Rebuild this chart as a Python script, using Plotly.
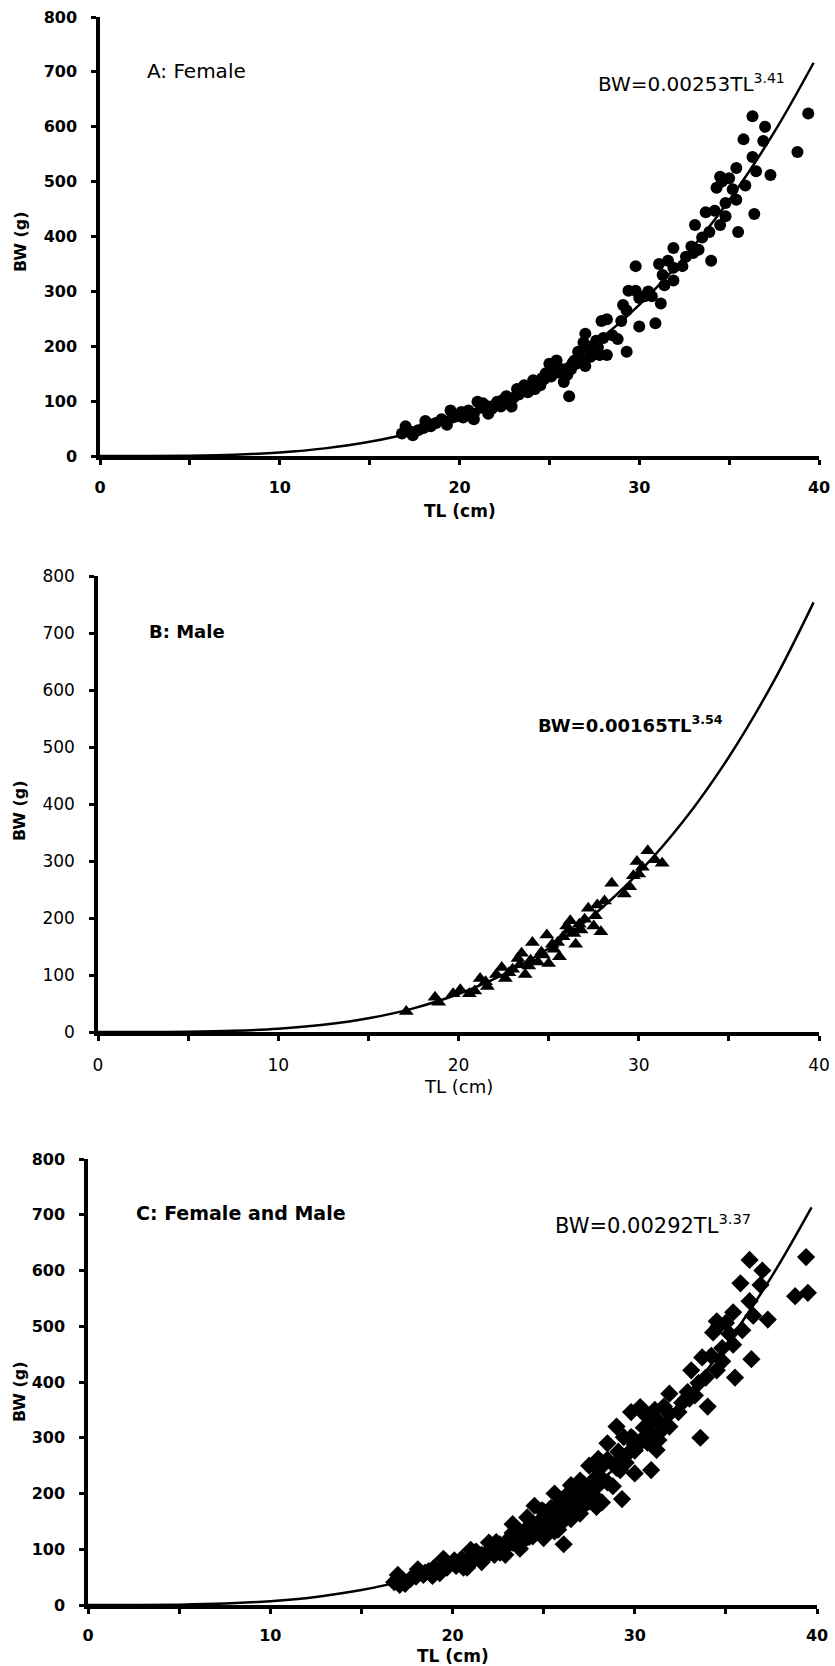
import plotly.graph_objects as go

# ---------------- data ----------------
female_tl = [39.4, 38.8, 37.3, 36.3, 37.0, 36.9, 35.8, 36.3, 36.5, 36.4, 35.5, 35.4, 35.4, 35.9,
             34.5, 34.3, 34.8, 34.8, 34.5, 33.7, 34.0, 33.1, 33.5, 33.3, 31.9, 31.9, 31.6, 31.3,
             31.9, 32.6, 31.1, 31.2, 30.9, 30.7, 29.8, 29.4, 29.8, 30.0, 30.0, 29.3, 29.1, 29.3,
             28.8, 28.2, 27.9, 28.2, 27.8, 27.6, 27.0, 26.9, 27.3, 27.0, 26.6, 26.4, 26.2, 26.1,
             25.8, 25.6, 25.4, 25.3, 25.0, 24.8, 24.6, 24.4, 24.1, 24.1, 23.6, 23.2, 23.0, 22.9,
             22.6, 22.1, 21.8, 21.6, 21.3, 21.0, 20.8, 20.5, 20.2, 20.1, 19.6, 19.5, 19.3, 19.0,
             18.7, 18.4, 18.1, 18.0, 17.7, 17.3, 17.0, 16.8, 17.4, 20.8, 21.6, 22.3, 22.7, 23.3,
             23.8, 24.2, 24.5, 25.1, 25.7, 26.0, 26.5, 26.8, 27.2, 27.5, 28.5, 29.0, 30.3, 31.4,
             32.4, 32.9, 33.9, 34.2, 35.0, 35.2, 18.5, 19.8, 20.4, 21.2, 22.0, 22.4, 23.5, 24.0,
             24.7, 25.5, 26.3, 26.7, 27.1, 27.7, 28.0, 30.5, 33.0, 34.6]
female_bw = [624, 554, 512, 619, 600, 574, 577, 545, 519, 441, 408, 467, 525, 493,
             509, 489, 461, 437, 421, 444, 356, 421, 398, 376, 379, 343, 356, 330,
             320, 363, 350, 278, 242, 291, 346, 301, 301, 288, 236, 265, 275, 190,
             213, 249, 246, 184, 184, 210, 223, 207, 181, 164, 190, 174, 158, 109,
             135, 155, 174, 161, 168, 151, 142, 132, 138, 122, 129, 122, 106, 90,
             109, 99, 86, 90, 96, 99, 77, 83, 70, 80, 70, 83, 57, 67,
             60, 54, 64, 51, 47, 44, 54, 41, 38, 67, 77, 90, 96, 112,
             116, 122, 129, 145, 158, 148, 168, 177, 194, 190, 220, 246, 291, 311,
             346, 382, 408, 447, 506, 486, 58, 72, 74, 88, 94, 102, 118, 128,
             140, 152, 170, 180, 200, 198, 215, 300, 370, 500]

male_tl = [17.1, 18.7, 18.9, 19.7, 20.1, 20.6, 21.2, 21.6, 22.1, 22.4, 22.6, 23.0, 23.3, 23.5,
           23.7, 23.9, 24.1, 24.4, 24.7, 24.9, 25.0, 25.3, 25.6, 25.8, 26.0, 26.2, 26.4, 26.5,
           26.8, 27.0, 27.2, 27.5, 27.6, 27.9, 28.1, 28.5, 29.2, 29.5, 29.7, 29.9, 30.0, 30.5,
           30.9, 31.3, 30.2, 25.2, 21.5, 22.8, 24.0, 25.5, 26.7, 27.7, 20.9, 23.4, 24.6, 26.1]
male_bw = [36, 61, 52, 67, 74, 67, 94, 80, 101, 113, 94, 110, 129, 138,
           101, 116, 157, 123, 135, 170, 120, 145, 132, 167, 186, 195, 173, 154,
           179, 198, 217, 186, 204, 176, 230, 261, 242, 255, 274, 299, 277, 318,
           302, 296, 289, 154, 88, 104, 126, 157, 189, 223, 72, 118, 140, 178]

extra_tl = [33.6, 39.5, 30.3, 31.0, 28.5, 29.0, 26.5, 27.5, 24.5, 23.3, 25.6, 28.0, 30.6, 22.0]
extra_bw = [300, 560, 355, 330, 290, 320, 215, 250, 178, 145, 200, 262, 340, 112]

combined_tl = female_tl + male_tl + extra_tl
combined_bw = female_bw + male_bw + extra_bw

curve_tl = [0, 2.5, 5, 7.5, 10, 12.5, 15, 17.5, 20, 22.5, 25, 27.5, 30, 32.5, 35, 37.5, 39.7]
curve_female = [0, 0.06, 0.61, 2.44, 6.5, 13.9, 25.9, 43.8, 69.1, 103.3, 147.9, 204.7, 275.5,
                361.9, 466.1, 589.6, 716.6]
curve_male = [0, 0.04, 0.49, 2.07, 5.7, 12.6, 24.0, 41.5, 66.6, 101.0, 146.6, 205.4, 279.5,
              370.9, 482.5, 615.9, 753.7]
curve_all = [0, 0.06, 0.66, 2.60, 6.85, 14.5, 26.8, 45.1, 70.7, 105.2, 150.2, 207.0, 277.5,
             363.5, 466.3, 588.6, 713.3]

panel_labels = ["A: Female", "B: Male", "C: Female and Male"]
equations = ["BW=0.00253TL<sup>3.41</sup>", "BW=0.00165TL<sup>3.54</sup>",
             "BW=0.00292TL<sup>3.37</sup>"]
x_title = "TL (cm)"
y_title = "BW (g)"

# ---------------- figure ----------------
W, H = 835, 1666
FONT = "DejaVu Sans"


def px_x(p):
    return p / W


def px_y(p):
    return 1 - p / H


# panel pixel boxes (left, right, top, bottom)
boxes = [(100, 819, 17, 456), (98, 819, 576, 1032), (88, 817, 1159, 1605)]
bold_ticks = [True, False, True]

fig = go.Figure()

series = [
    (female_tl, female_bw, curve_female, "circle", 12),
    (male_tl, male_bw, curve_male, "triangle-up", 13),
    (combined_tl, combined_bw, curve_all, "diamond", 14),
]

for i, (tl, bw, cv, sym, ms) in enumerate(series):
    sfx = "" if i == 0 else str(i + 1)
    fig.add_trace(go.Scatter(x=curve_tl, y=cv, mode="lines",
                             line=dict(color="black", width=2.5, shape="spline"),
                             xaxis="x" + sfx, yaxis="y" + sfx, showlegend=False, hoverinfo="skip"))
    fig.add_trace(go.Scatter(x=tl, y=bw, mode="markers",
                             marker=dict(symbol=sym, size=ms, color="black", line=dict(width=0)),
                             xaxis="x" + sfx, yaxis="y" + sfx, showlegend=False, cliponaxis=False))

layout = dict(width=W, height=H, margin=dict(l=0, r=0, t=0, b=0, autoexpand=False),
              paper_bgcolor="white", plot_bgcolor="white", showlegend=False,
              font=dict(family=FONT, color="black"))

annotations = []
x_title_y = [511, 1086, 1656]
y_title_y = [242, 811, 1392]
y_title_x = [20, 20, 19]
x_standoff = [9, 10, 8]
label_pos = [(2.5, 701), (2.7, 702), (2.5, 703)]
label_font = [dict(size=20, family=FONT), dict(size=18, family=FONT, weight="bold"),
              dict(size=19, family=FONT, weight="bold")]
eq_pos = [(27.6, 680), (24.3, 540), (25.5, 684)]
eq_font = [dict(size=20, family=FONT), dict(size=18, family=FONT, weight="bold"),
           dict(size=21, family=FONT)]

for i, (l, r, t, b) in enumerate(boxes):
    sfx = "" if i == 0 else str(i + 1)
    if bold_ticks[i]:
        tick_font = dict(family=FONT, size=16, weight="bold")
        xt_font = dict(family=FONT, size=17, weight="bold")
    else:
        tick_font = dict(family=FONT, size=17)
        xt_font = dict(family=FONT, size=18)
    layout["xaxis" + sfx] = dict(
        domain=[px_x(l), px_x(r)], anchor="y" + sfx, range=[0, 40], dtick=10, tick0=0,
        showline=True, linecolor="black", linewidth=3.5, showgrid=False, zeroline=False,
        ticks="outside", ticklen=5, tickwidth=3, tickcolor="black", tickfont=tick_font,
        ticklabelstandoff=x_standoff[i], automargin=False,
        minor=dict(ticks="outside", dtick=5, tick0=0, ticklen=5, tickwidth=3,
                   tickcolor="black", showgrid=False),
    )
    layout["yaxis" + sfx] = dict(
        domain=[px_y(b), px_y(t)], anchor="x" + sfx, range=[0, 800], dtick=100, tick0=0,
        showline=True, linecolor="black", linewidth=3.5, showgrid=False, zeroline=False,
        ticks="outside", ticklen=5, tickwidth=3, tickcolor="black", tickfont=tick_font,
        ticklabelstandoff=11, automargin=False,
    )
    annotations.append(dict(text=x_title, xref="paper", yref="paper", x=px_x((l + r) / 2),
                            y=px_y(x_title_y[i]), xanchor="center", yanchor="middle",
                            showarrow=False, font=xt_font))
    annotations.append(dict(text=y_title, xref="paper", yref="paper", x=px_x(y_title_x[i]),
                            y=px_y(y_title_y[i]), xanchor="center", yanchor="middle",
                            showarrow=False, textangle=-90,
                            font=dict(family=FONT, size=16, weight="bold")))
    annotations.append(dict(text=panel_labels[i], xref="x" + sfx, yref="y" + sfx,
                            x=label_pos[i][0], y=label_pos[i][1], xanchor="left",
                            yanchor="middle", showarrow=False, font=label_font[i]))
    annotations.append(dict(text=equations[i], xref="x" + sfx, yref="y" + sfx,
                            x=eq_pos[i][0], y=eq_pos[i][1], xanchor="left",
                            yanchor="middle", showarrow=False, font=eq_font[i]))

layout["annotations"] = annotations
fig.update_layout(**layout)
fig.write_html("out.html", config={"displayModeBar": False},
               post_script="document.body.style.margin='0';document.body.style.overflow='hidden';")
